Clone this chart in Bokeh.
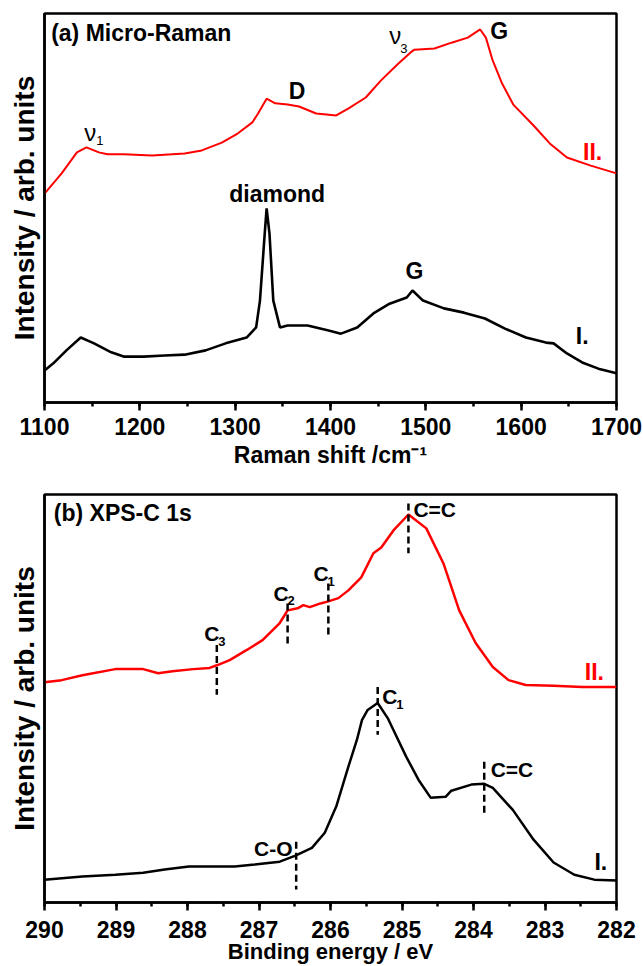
from bokeh.plotting import figure
from bokeh.layouts import column
from bokeh.models import Range1d, SingleIntervalTicker, FixedTicker
from bokeh.core.properties import value
from bokeh.embed import file_html
from bokeh.resources import INLINE

# ---------------- data: (a) Micro-Raman ----------------
raman_shift_II = [1100, 1118, 1134, 1144, 1157, 1166, 1183, 1213, 1247, 1265, 1286, 1303,
                  1318, 1324, 1333, 1342, 1355, 1367, 1385, 1406, 1419, 1437, 1453, 1471,
                  1484, 1488, 1509, 1527, 1544, 1557, 1563, 1570, 1580, 1592, 1613, 1630,
                  1648, 1673, 1700]
raman_int_II = [53.7, 58.9, 64.3, 65.6, 64.3, 63.8, 63.8, 63.5, 64.0, 64.8, 66.8, 69.2,
                72.0, 74.3, 78.1, 76.9, 76.6, 76.1, 74.3, 73.8, 75.6, 78.4, 82.8, 87.1,
                90.0, 90.7, 91.0, 92.5, 93.8, 95.9, 93.8, 88.0, 82.0, 76.5, 71.2, 66.6,
                63.0, 60.9, 58.9]

raman_shift_I = [1100, 1109, 1123, 1138, 1152, 1170, 1183, 1204, 1226, 1247, 1269, 1290,
                 1312, 1322, 1326, 1331, 1333, 1336, 1340, 1347, 1355, 1376, 1398, 1411,
                 1428, 1445, 1462, 1480, 1486, 1497, 1519, 1540, 1562, 1583, 1605, 1626,
                 1634, 1648, 1664, 1681, 1700]
raman_int_I = [8.2, 10.0, 13.4, 16.7, 15.2, 12.9, 11.8, 11.8, 12.1, 12.3, 13.4, 15.2,
               16.7, 19.3, 26.2, 43.4, 49.9, 43.4, 26.2, 19.3, 19.8, 19.8, 18.5, 17.7,
               19.3, 22.9, 25.4, 27.0, 28.8, 26.2, 24.2, 23.1, 21.6, 19.0, 16.7, 15.4,
               15.2, 12.6, 10.3, 8.7, 7.5]

# ---------------- data: (b) XPS C 1s ----------------
xps_be_II = [290.0, 289.76, 289.47, 289.01, 288.62, 288.41, 288.21, 287.92, 287.69, 287.58,
             287.41, 287.17, 286.95, 286.71, 286.60, 286.46, 286.38, 286.29, 286.14, 286.03,
             285.89, 285.75, 285.57, 285.40, 285.29, 285.12, 284.91, 284.66, 284.42, 284.20,
             283.97, 283.73, 283.51, 283.27, 282.88, 282.48, 282.0]
xps_int_II = [54.0, 54.5, 55.7, 57.2, 57.2, 56.2, 56.7, 57.2, 57.5, 58.2,
              59.4, 61.9, 64.3, 68.5, 71.6, 72.1, 72.9, 72.4, 73.3, 73.8,
              74.6, 76.5, 79.7, 85.6, 87.0, 91.2, 95.1, 91.7, 83.1, 71.6,
              63.6, 57.7, 54.5, 53.3, 53.1, 52.8, 52.8]

xps_be_I = [290.0, 289.47, 289.01, 288.62, 288.32, 287.98, 287.34, 287.06, 286.71, 286.49,
            286.26, 286.08, 285.92, 285.75, 285.63, 285.56, 285.48, 285.34, 285.20, 285.14,
            284.94, 284.77, 284.60, 284.39, 284.31, 284.03, 283.85, 283.73, 283.45, 283.16,
            282.88, 282.59, 282.31, 282.0]
xps_int_I = [5.6, 6.4, 6.8, 7.3, 8.1, 8.8, 8.8, 9.3, 10.0, 11.5,
             13.4, 17.1, 23.5, 33.3, 39.9, 44.7, 47.2, 48.9, 45.2, 43.0,
             35.7, 30.1, 25.7, 25.9, 27.4, 28.9, 29.1, 28.1, 22.7, 15.4,
             9.8, 6.8, 5.6, 5.4]

# component markers (binding energy, top, bottom)
marker_be = [284.91, 286.03, 286.60, 287.59, 285.34, 283.85, 286.48]
marker_top = [97.8, 78.2, 73.3, 63.1, 52.8, 34.5, 14.9]
marker_bot = [85.6, 65.5, 63.1, 50.9, 41.1, 22.0, 3.2]

FONT = "Liberation Sans"
W = 643


def style(p, xlabel, tick_standoff, title_standoff, title_size):
    p.grid.visible = False
    p.outline_line_color = "black"
    p.outline_line_width = 2.5
    p.outline_line_alpha = 1.0
    p.background_fill_color = "white"
    p.border_fill_color = "white"
    ax = p.xaxis[0]
    ax.axis_label = xlabel
    ax.axis_line_width = 2.5
    ax.major_tick_line_width = 2.5
    ax.minor_tick_line_width = 2.5
    ax.major_tick_in = 0
    ax.major_tick_out = 8
    ax.minor_tick_in = 0
    ax.minor_tick_out = 4
    ax.major_label_text_font = FONT
    ax.major_label_text_font_style = "bold"
    ax.major_label_text_font_size = "23px"
    ax.major_label_text_color = "black"
    ax.major_label_standoff = tick_standoff
    ax.axis_label_text_font = FONT
    ax.axis_label_text_font_style = "bold"
    ax.axis_label_text_font_size = title_size
    ax.axis_label_text_color = "black"
    ax.axis_label_standoff = title_standoff
    ay = p.yaxis[0]
    ay.ticker = FixedTicker(ticks=[])
    ay.axis_line_width = 2.5
    ay.axis_label = "Intensity / arb. units"
    ay.axis_label_text_font = FONT
    ay.axis_label_text_font_style = "bold"
    ay.axis_label_text_font_size = "28px"
    ay.axis_label_text_color = "black"
    ay.axis_label_standoff = 5
    ay.major_label_text_font_size = "0px"


def txt(p, xs, ys, texts, size="20px", color="black", align="center", bold=True):
    p.text(x=xs, y=ys, text=texts, text_font=value(FONT),
           text_font_style="bold" if bold else "normal",
           text_font_size=size, text_color=color, text_align=align,
           text_baseline="middle")


# ---------------- panel (a) ----------------
p1 = figure(width=W, height=470, output_backend="svg", toolbar_location=None,
            x_range=Range1d(1100, 1700), y_range=Range1d(0, 100),
            min_border_left=44, min_border_right=27, min_border_top=13,
            min_border_bottom=68)
style(p1, "Raman shift /cm\u207b\u00b9", 7, 4, "23px")
p1.xaxis.ticker = SingleIntervalTicker(interval=100, num_minor_ticks=2)

p1.line(raman_shift_II, raman_int_II, line_color="#ff0000", line_width=2)
p1.line(raman_shift_I, raman_int_I, line_color="black", line_width=2.6)

txt(p1, [1107], [94.9], ["(a) Micro-Raman"], size="23px", align="left")
txt(p1, [1148, 1468], [69.4, 94.3], ["\u03bd", "\u03bd"], size="24px", bold=False)
txt(p1, [1158, 1477], [67.4, 91.1], ["1", "3"], size="13px", bold=False)
txt(p1, [1365, 1577, 1344, 1488], [80.2, 95.6, 53.7, 33.9],
    ["D", "G", "diamond", "G"], size="23px")
txt(p1, [1675], [64.3], ["II."], size="23px", color="#ff0000")
txt(p1, [1664], [17.2], ["I."], size="23px")

# ---------------- panel (b) ----------------
p2 = figure(width=W, height=496, output_backend="svg", toolbar_location=None,
            x_range=Range1d(290, 282), y_range=Range1d(0, 100),
            min_border_left=44, min_border_right=27, min_border_top=24,
            min_border_bottom=63)
style(p2, "Binding energy / eV", 10, -2, "22px")
p2.xaxis.ticker = SingleIntervalTicker(interval=1, num_minor_ticks=2)

p2.line(xps_be_II, xps_int_II, line_color="#ff0000", line_width=2.5)
p2.line(xps_be_I, xps_int_I, line_color="black", line_width=2.5)
p2.segment(x0=marker_be, y0=marker_top, x1=marker_be, y1=marker_bot,
           line_color="black", line_width=2.5, line_dash="7 4")

txt(p2, [289.87], [95.4], ["(b) XPS-C 1s"], size="23px", align="left")
txt(p2, [284.84, 283.76], [96.4, 32.5], ["C=C", "C=C"], size="21px", align="left")
txt(p2, [286.53], [13.2], ["C-O"], size="21px", align="right")
txt(p2, [286.13, 286.69, 287.66, 285.17], [80.7, 75.8, 66.0, 50.4],
    ["C", "C", "C", "C"], size="21px")
txt(p2, [285.99, 286.55, 287.52, 285.03], [78.6, 73.9, 63.9, 48.5],
    ["1", "2", "3", "1"], size="13px")
txt(p2, [282.31], [56.5], ["II."], size="23px", color="#ff0000")
txt(p2, [282.22], [10.0], ["I."], size="23px")

layout = column(p1, p2)
open("out.html", "w").write(file_html(layout, INLINE))
